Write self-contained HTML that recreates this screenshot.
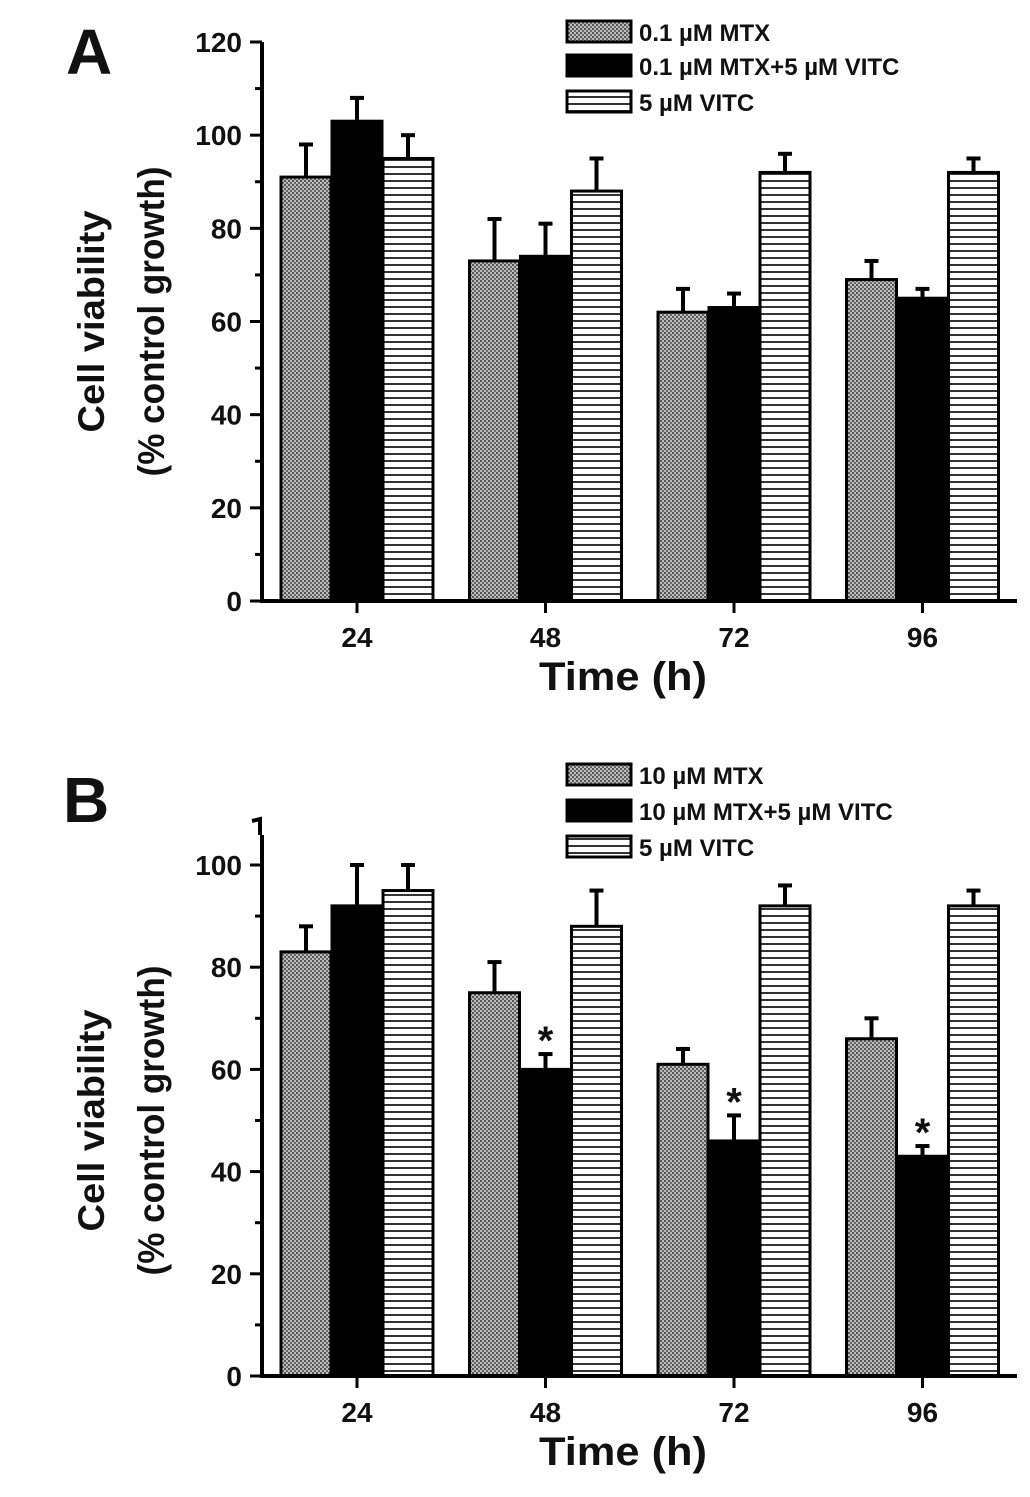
<!DOCTYPE html>
<html><head><meta charset="utf-8"><style>
body{margin:0;background:#fff}
svg text{font-family:"Liberation Sans",Arial,sans-serif;font-weight:bold;fill:#111}
</style></head><body>
<svg id="chart" width="1030" height="1492" viewBox="0 0 1030 1492" xmlns="http://www.w3.org/2000/svg">
<defs>
<pattern id="dots" width="4" height="4" patternUnits="userSpaceOnUse"><rect width="4" height="4" fill="#bdbdbd"/><rect width="2" height="2" fill="#555"/><rect x="2" y="2" width="2" height="2" fill="#666"/></pattern>
<pattern id="stripes" width="8" height="7" patternUnits="userSpaceOnUse"><rect width="8" height="7" fill="#fff"/><rect y="5" width="8" height="2" fill="#333"/></pattern>
</defs>
</svg>
<script>
const categories = ['24','48','72','96'];
const yTicksA = [0,20,40,60,80,100,120];
const yTicksB = [0,20,40,60,80,100];
const seriesNamesA = ['0.1 µM MTX','0.1 µM MTX+5 µM VITC','5 µM VITC'];
const seriesNamesB = ['10 µM MTX','10 µM MTX+5 µM VITC','5 µM VITC'];
const aMTX = [91,73,62,69], aMTXerr = [7,9,5,4];
const aCombo = [103,74,63,65], aComboErr = [5,7,3,2];
const aVITC = [95,88,92,92], aVITCerr = [5,7,4,3];
const bMTX = [83,75,61,66], bMTXerr = [5,6,3,4];
const bCombo = [92,60,46,43], bComboErr = [8,3,5,2];
const bVITC = [95,88,92,92], bVITCerr = [5,7,4,3];
const bStars = [false,true,true,true];

const svg = document.getElementById('chart');
const NS = 'http://www.w3.org/2000/svg';
function mk(tag, attrs, parent){const e=document.createElementNS(NS,tag);for(const k in attrs)e.setAttribute(k,attrs[k]);(parent||svg).appendChild(e);return e;}
const fills = ['url(#dots)','#000','url(#stripes)'];

function panel(cfg){
  const g = mk('g',{});
  
  
  const x0=262, x1=1017, y0=cfg.y0, yTop=cfg.yTop;
  const y = v => y0 - (v/cfg.yMax)*(y0-cfg.yMaxPx);
  const cx = i => 357 + i*188.5;
  const series=[[cfg.s1,cfg.e1],[cfg.s2,cfg.e2],[cfg.s3,cfg.e3]];
  series.forEach((s,si)=>{
    s[0].forEach((v,i)=>{
      const bx = cx(i) - 76 + si*51;
      const eb = mk('line',{x1:bx+25,x2:bx+25,y1:y(v),y2:y(v+s[1][i]),stroke:'#000','stroke-width':4},g);
      
      
      const cap = mk('line',{x1:bx+18,x2:bx+32,y1:y(v+s[1][i]),y2:y(v+s[1][i]),stroke:'#000','stroke-width':4},g);
      
      
      const r = mk('rect',{x:bx,y:y(v),width:50,height:y0-y(v),fill:fills[si],stroke:'#000','stroke-width':3},g);
      
      
      if(cfg.stars && si===1 && cfg.stars[i]){
        const t = mk('text',{x:bx+25,y:y(v+s[1][i]),'text-anchor':'middle','font-size':40},g);
        t.textContent='*';
        
        
      }
    });
  });
  const ya = mk('line',{x1:x0,x2:x0,y1:y0,y2:yTop,stroke:'#000','stroke-width':4},g);
  
  
  const xa = mk('line',{x1:x0-2,x2:x1,y1:y0,y2:y0,stroke:'#000','stroke-width':4},g);
  
  
  if(cfg.brk){ mk('path',{d:`M${x0-10} ${yTop-14} L${x0-2} ${yTop-16} L${x0-2} ${yTop}`,stroke:'#000','stroke-width':4,fill:'none'},g); }
  cfg.ticks.forEach(t=>{
    mk('line',{x1:x0-12,x2:x0,y1:y(t),y2:y(t),stroke:'#000','stroke-width':3},g);
    const tl = mk('text',{x:x0-20,y:y(t)+10,'text-anchor':'end','font-size':28},g);
    tl.textContent=t;
    
    
  });
  for(let t=cfg.ticks[0]+10;t<cfg.yMaxTick;t+=20) mk('line',{x1:x0-7,x2:x0,y1:y(t),y2:y(t),stroke:'#000','stroke-width':3},g);
  categories.forEach((c,i)=>{
    mk('line',{x1:cx(i),x2:cx(i),y1:y0,y2:y0+12,stroke:'#000','stroke-width':3},g);
    const tl = mk('text',{x:cx(i),y:y0+46,'text-anchor':'middle','font-size':28},g);
    tl.textContent=c;
    
    
  });
  const xt = mk('text',{x:623,y:y0+89,'text-anchor':'middle','font-size':40,textLength:168,lengthAdjust:'spacingAndGlyphs'},g);
  xt.textContent='Time (h)';
  
  
  const mid = (y0+cfg.yMaxPx)/2;
  const t1 = mk('text',{x:0,y:0,'text-anchor':'middle','font-size':37,transform:`translate(104,${mid}) rotate(-90)`,textLength:222,lengthAdjust:'spacingAndGlyphs'},g);
  t1.textContent='Cell viability';
  
  
  const t2 = mk('text',{x:0,y:0,'text-anchor':'middle','font-size':37,transform:`translate(164,${mid}) rotate(-90)`,textLength:310,lengthAdjust:'spacingAndGlyphs'},g);
  t2.textContent='(% control growth)';
  
  
  const pl = mk('text',{x:cfg.labX,y:cfg.labY,'font-size':64},g);
  pl.textContent=cfg.id.toUpperCase();
  
  
  cfg.names.forEach((n,i)=>{
    const ly = cfg.legY[i];
    const lr = mk('rect',{x:567,y:ly,width:64,height:21,fill:fills[i],stroke:'#000','stroke-width':3},g);
    
    
    const lt = mk('text',{x:639,y:ly+20,'font-size':24},g);
    lt.textContent=n;
    
    
  });
}
panel({id:'a',y0:601,yTop:42,yMax:120,yMaxPx:42,yMaxTick:120,ticks:yTicksA,s1:aMTX,e1:aMTXerr,s2:aCombo,e2:aComboErr,s3:aVITC,e3:aVITCerr,names:seriesNamesA,legY:[21,55,91],labX:66,labY:74});
panel({id:'b',y0:1376,yTop:835,yMax:100,yMaxPx:865,yMaxTick:110,ticks:yTicksB,s1:bMTX,e1:bMTXerr,s2:bCombo,e2:bComboErr,s3:bVITC,e3:bVITCerr,stars:bStars,brk:true,names:seriesNamesB,legY:[764,800,836],labX:63,labY:822});
</script>
</body></html>
